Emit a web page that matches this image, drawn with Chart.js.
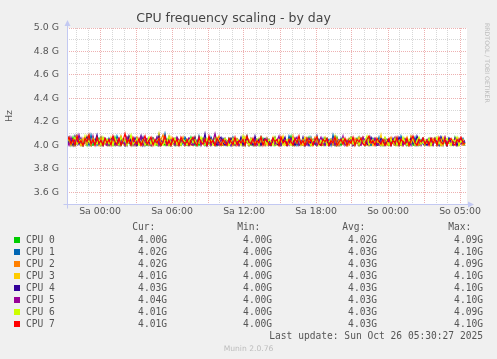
<!DOCTYPE html>
<html><head><meta charset="utf-8">
<script src="https://cdn.jsdelivr.net/npm/chart.js@4"></script>
<style>
html,body{margin:0;padding:0;background:#f0f0f0;}
#wrap{position:relative;width:497px;height:359px;overflow:hidden;background:#f0f0f0;}
#c{position:absolute;left:0;top:0;}
.m{position:absolute;font-family:"DejaVu Sans Mono",monospace;font-size:9.6px;line-height:12px;height:12px;color:#555;white-space:pre;}
.sq{position:absolute;width:6px;height:6px;}
#rrd{position:absolute;left:484px;top:23px;font-family:"DejaVu Sans";font-size:6.2px;line-height:7px;color:#bdbdbd;writing-mode:vertical-rl;white-space:nowrap;}
#munin{position:absolute;left:0;width:497px;text-align:center;top:343.5px;font-family:"DejaVu Sans";font-size:7.6px;line-height:9px;color:#bdbdbd;}
</style></head><body>
<div id="wrap"><canvas id="c" width="497" height="359"></canvas>
<div id="rrd">RRDTOOL / TOBI OETIKER</div>
<div id="munin">Munin 2.0.76</div>
</div>
<script>
// ---- data (GHz), one value every 10 minutes ----
const seriesNames = ['CPU 0','CPU 1','CPU 2','CPU 3','CPU 4','CPU 5','CPU 6','CPU 7'];
const seriesColors = ['#00CC00','#0066B3','#FF8000','#FFCC00','#330099','#990099','#CCFF00','#FF0000'];
const cpu0 = [4.00,4.04,4.01,4.07,4.00,4.03,4.06,4.00,4.02,4.05,4.00,4.08,4.01,4.00,4.04,4.02,4.06,4.00,4.03,4.01,
4.05,4.00,4.02,4.00,4.07,4.01,4.04,4.00,4.03,4.00,4.06,4.02,4.00,4.05,4.01,4.00,4.03,4.07,4.00,4.02,
4.00,4.04,4.00,4.06,4.02,4.00,4.09,4.01,4.03,4.00,4.05,4.00,4.02,4.04,4.00,4.06,4.01,4.00,4.03,4.05,
4.01,4.00,4.07,4.02,4.00,4.04,4.00,4.03,4.06,4.00,4.01,4.05,4.00,4.02,4.08,4.00,4.03,4.01,4.00,4.04,
4.00,4.06,4.02,4.00,4.03,4.05,4.00,4.01,4.04,4.00,4.07,4.02,4.00,4.03,4.00,4.05,4.01,4.00,4.06,4.02,
4.03,4.00,4.01,4.05,4.00,4.04,4.02,4.00,4.06,4.01,4.00,4.03,4.08,4.00,4.02,4.04,4.00,4.01,4.05,4.00,
4.02,4.07,4.00,4.03,4.01,4.00,4.05,4.02,4.00,4.04,4.06,4.00,4.01,4.03,4.00,4.07,4.02,4.00,4.04,4.01,
4.00,4.05,4.03,4.00,4.02,4.06,4.00,4.01,4.04,4.00,4.03,4.07,4.00,4.02,4.05,4.00,4.01,4.04,4.00,4.06,
4.01,4.00,4.04,4.02,4.00,4.06,4.01,4.00,4.03,4.05,4.00,4.02,4.07,4.00,4.01,4.04,4.00,4.03,4.06,4.00,
4.02,4.04,4.00,4.01,4.06,4.00,4.03,4.00,4.05,4.02,4.00,4.04,4.01,4.00,4.07,4.02,4.00,4.03,4.01,4.00];
const cpu1 = [4.03,4.07,4.00,4.05,4.02,4.08,4.01,4.04,4.00,4.06,4.03,4.00,4.09,4.02,4.05,4.00,4.04,4.07,4.01,4.03,
4.00,4.06,4.02,4.04,4.00,4.08,4.03,4.01,4.05,4.00,4.07,4.02,4.04,4.00,4.06,4.01,4.03,4.08,4.00,4.05,
4.02,4.00,4.06,4.03,4.01,4.07,4.00,4.04,4.02,4.10,4.01,4.05,4.00,4.03,4.06,4.00,4.02,4.05,4.01,4.07,
4.04,4.00,4.03,4.06,4.01,4.00,4.08,4.02,4.05,4.00,4.04,4.01,4.07,4.03,4.00,4.05,4.02,4.00,4.06,4.03,
4.01,4.05,4.00,4.07,4.02,4.04,4.00,4.06,4.01,4.03,4.08,4.00,4.02,4.05,4.01,4.04,4.00,4.07,4.03,4.00,
4.06,4.02,4.00,4.04,4.07,4.01,4.03,4.00,4.05,4.02,4.00,4.08,4.03,4.01,4.06,4.00,4.04,4.02,4.00,4.05,
4.03,4.00,4.07,4.02,4.05,4.00,4.04,4.01,4.06,4.00,4.03,4.05,4.00,4.09,4.02,4.04,4.00,4.06,4.01,4.03,
4.00,4.05,4.02,4.06,4.00,4.03,4.07,4.01,4.04,4.00,4.05,4.02,4.00,4.06,4.03,4.01,4.07,4.00,4.04,4.02,
4.05,4.01,4.00,4.04,4.06,4.02,4.00,4.08,4.03,4.01,4.05,4.00,4.04,4.02,4.07,4.00,4.03,4.05,4.01,4.00,
4.04,4.06,4.01,4.00,4.05,4.03,4.00,4.07,4.02,4.04,4.00,4.06,4.01,4.03,4.05,4.00,4.04,4.02,4.06,4.02];
const cpu2 = [4.05,4.01,4.03,4.00,4.07,4.02,4.04,4.00,4.06,4.01,4.08,4.03,4.00,4.05,4.02,4.04,4.00,4.07,4.01,4.03,
4.00,4.04,4.06,4.02,4.00,4.05,4.01,4.08,4.03,4.00,4.04,4.02,4.06,4.00,4.03,4.07,4.01,4.00,4.05,4.02,
4.04,4.00,4.02,4.06,4.01,4.03,4.00,4.05,4.09,4.02,4.00,4.04,4.01,4.06,4.03,4.00,4.05,4.02,4.07,4.00,
4.03,4.05,4.00,4.02,4.04,4.00,4.07,4.01,4.03,4.06,4.00,4.02,4.05,4.01,4.00,4.04,4.08,4.02,4.00,4.05,
4.01,4.03,4.06,4.00,4.04,4.02,4.00,4.05,4.01,4.07,4.03,4.00,4.04,4.02,4.06,4.00,4.03,4.01,4.05,4.00,
4.06,4.00,4.02,4.05,4.01,4.04,4.00,4.07,4.02,4.03,4.00,4.05,4.01,4.08,4.00,4.03,4.06,4.01,4.00,4.04,
4.02,4.05,4.00,4.03,4.07,4.00,4.04,4.02,4.00,4.06,4.01,4.03,4.05,4.00,4.02,4.06,4.00,4.04,4.03,4.01,
4.05,4.00,4.03,4.01,4.06,4.02,4.00,4.04,4.07,4.01,4.00,4.05,4.03,4.00,4.06,4.02,4.04,4.00,4.01,4.05,
4.00,4.03,4.07,4.02,4.00,4.05,4.01,4.04,4.00,4.06,4.02,4.00,4.08,4.03,4.01,4.05,4.00,4.02,4.06,4.01,
4.04,4.02,4.00,4.06,4.03,4.01,4.05,4.00,4.02,4.07,4.00,4.04,4.01,4.03,4.05,4.00,4.06,4.02,4.00,4.02];
const cpu3 = [4.01,4.06,4.03,4.00,4.05,4.08,4.02,4.00,4.04,4.06,4.01,4.03,4.00,4.07,4.02,4.05,4.00,4.03,4.06,4.01,
4.04,4.00,4.07,4.02,4.05,4.00,4.03,4.06,4.01,4.00,4.05,4.08,4.02,4.04,4.00,4.06,4.03,4.01,4.00,4.05,
4.02,4.04,4.00,4.06,4.03,4.01,4.10,4.00,4.05,4.02,4.04,4.00,4.07,4.01,4.03,4.05,4.00,4.02,4.06,4.00,
4.05,4.02,4.04,4.00,4.07,4.01,4.03,4.00,4.06,4.02,4.05,4.01,4.00,4.04,4.08,4.02,4.00,4.05,4.03,4.01,
4.03,4.00,4.05,4.02,4.00,4.06,4.04,4.01,4.00,4.07,4.02,4.05,4.03,4.00,4.04,4.01,4.06,4.00,4.03,4.05,
4.00,4.04,4.02,4.07,4.01,4.00,4.05,4.03,4.08,4.00,4.02,4.04,4.01,4.06,4.00,4.03,4.05,4.02,4.00,4.07,
4.04,4.01,4.06,4.00,4.03,4.05,4.02,4.00,4.04,4.07,4.01,4.00,4.05,4.03,4.06,4.00,4.02,4.04,4.01,4.05,
4.00,4.06,4.02,4.04,4.00,4.03,4.07,4.01,4.05,4.00,4.04,4.02,4.06,4.00,4.03,4.05,4.01,4.09,4.00,4.03,
4.05,4.02,4.00,4.04,4.06,4.01,4.03,4.00,4.05,4.02,4.07,4.00,4.03,4.04,4.01,4.00,4.06,4.02,4.04,4.00,
4.03,4.05,4.01,4.00,4.06,4.02,4.04,4.00,4.07,4.03,4.01,4.05,4.00,4.04,4.02,4.06,4.00,4.03,4.05,4.01];
const cpu4 = [4.06,4.02,4.05,4.00,4.08,4.03,4.01,4.06,4.00,4.04,4.07,4.02,4.00,4.05,4.03,4.09,4.01,4.04,4.00,4.06,
4.03,4.00,4.05,4.07,4.01,4.04,4.00,4.06,4.02,4.05,4.00,4.08,4.03,4.01,4.06,4.00,4.04,4.02,4.07,4.00,
4.05,4.03,4.00,4.06,4.02,4.04,4.08,4.00,4.03,4.05,4.01,4.07,4.00,4.04,4.02,4.06,4.00,4.03,4.05,4.01,
4.00,4.06,4.04,4.01,4.07,4.00,4.03,4.05,4.02,4.10,4.00,4.04,4.06,4.01,4.03,4.00,4.05,4.07,4.02,4.00,
4.04,4.01,4.06,4.03,4.00,4.05,4.02,4.07,4.00,4.04,4.06,4.01,4.03,4.00,4.08,4.02,4.05,4.00,4.04,4.06,
4.02,4.05,4.00,4.04,4.06,4.01,4.00,4.05,4.03,4.07,4.00,4.02,4.06,4.04,4.00,4.03,4.05,4.01,4.07,4.00,
4.06,4.00,4.03,4.05,4.01,4.08,4.02,4.00,4.04,4.06,4.03,4.00,4.05,4.01,4.07,4.00,4.04,4.02,4.06,4.03,
4.01,4.05,4.07,4.00,4.03,4.04,4.00,4.06,4.02,4.05,4.01,4.00,4.07,4.03,4.05,4.00,4.02,4.06,4.04,4.00,
4.05,4.03,4.00,4.06,4.02,4.00,4.07,4.04,4.01,4.05,4.00,4.03,4.06,4.02,4.00,4.08,4.04,4.01,4.05,4.02,
4.00,4.04,4.06,4.01,4.05,4.03,4.00,4.07,4.02,4.04,4.00,4.06,4.03,4.01,4.05,4.00,4.04,4.06,4.02,4.03];
const cpu5 = [4.04,4.00,4.07,4.02,4.05,4.01,4.09,4.03,4.00,4.06,4.02,4.04,4.00,4.08,4.01,4.05,4.03,4.00,4.06,4.02,
4.00,4.05,4.03,4.07,4.01,4.00,4.06,4.02,4.04,4.00,4.07,4.03,4.01,4.05,4.00,4.06,4.02,4.08,4.00,4.04,
4.06,4.02,4.00,4.05,4.03,4.07,4.00,4.04,4.01,4.06,4.00,4.03,4.05,4.02,4.00,4.07,4.04,4.01,4.05,4.00,
4.03,4.06,4.01,4.00,4.04,4.02,4.07,4.00,4.05,4.03,4.01,4.06,4.00,4.04,4.10,4.02,4.00,4.05,4.03,4.06,
4.01,4.04,4.00,4.06,4.02,4.05,4.00,4.03,4.07,4.01,4.04,4.00,4.06,4.02,4.05,4.00,4.03,4.07,4.01,4.04,
4.05,4.00,4.03,4.06,4.01,4.04,4.08,4.00,4.02,4.05,4.03,4.00,4.06,4.01,4.04,4.07,4.00,4.03,4.05,4.02,
4.00,4.06,4.04,4.01,4.05,4.00,4.03,4.07,4.02,4.00,4.05,4.04,4.01,4.06,4.00,4.03,4.05,4.02,4.08,4.00,
4.04,4.02,4.06,4.00,4.03,4.05,4.01,4.00,4.07,4.03,4.04,4.00,4.05,4.02,4.06,4.01,4.00,4.04,4.03,4.06,
4.02,4.05,4.00,4.04,4.07,4.01,4.03,4.06,4.00,4.05,4.02,4.04,4.00,4.07,4.03,4.01,4.05,4.00,4.06,4.03,
4.05,4.01,4.04,4.00,4.06,4.03,4.02,4.05,4.00,4.07,4.01,4.04,4.03,4.00,4.06,4.02,4.05,4.01,4.03,4.04];
const cpu6 = [4.02,4.06,4.00,4.04,4.07,4.01,4.03,4.05,4.00,4.08,4.02,4.04,4.00,4.06,4.03,4.01,4.05,4.00,4.07,4.02,
4.05,4.01,4.04,4.00,4.06,4.02,4.00,4.07,4.03,4.05,4.00,4.04,4.09,4.01,4.03,4.06,4.00,4.02,4.05,4.00,
4.03,4.07,4.01,4.05,4.00,4.04,4.06,4.02,4.00,4.05,4.03,4.08,4.00,4.02,4.06,4.01,4.04,4.00,4.05,4.03,
4.00,4.04,4.06,4.02,4.05,4.00,4.03,4.07,4.01,4.00,4.06,4.03,4.05,4.00,4.02,4.07,4.04,4.00,4.03,4.06,
4.04,4.00,4.02,4.06,4.01,4.05,4.03,4.00,4.08,4.02,4.04,4.00,4.06,4.03,4.01,4.05,4.00,4.07,4.02,4.04,
4.01,4.05,4.03,4.00,4.07,4.02,4.04,4.06,4.00,4.03,4.05,4.01,4.00,4.06,4.04,4.02,4.07,4.00,4.05,4.01,
4.06,4.02,4.00,4.05,4.03,4.07,4.00,4.04,4.02,4.06,4.00,4.03,4.05,4.01,4.08,4.00,4.04,4.02,4.06,4.03,
4.00,4.04,4.07,4.01,4.03,4.05,4.00,4.06,4.02,4.04,4.08,4.00,4.03,4.05,4.01,4.06,4.02,4.00,4.04,4.07,
4.03,4.00,4.05,4.02,4.06,4.00,4.04,4.01,4.07,4.03,4.00,4.05,4.02,4.06,4.00,4.04,4.07,4.01,4.03,4.05,
4.02,4.06,4.00,4.04,4.03,4.07,4.01,4.05,4.00,4.04,4.06,4.02,4.00,4.05,4.03,4.07,4.00,4.04,4.02,4.01];
const cpu7 = [4.03,4.07,4.01,4.05,4.00,4.08,4.02,4.04,4.00,4.06,4.03,4.09,4.01,4.05,4.00,4.07,4.02,4.04,4.00,4.06,
4.02,4.05,4.00,4.08,4.03,4.01,4.06,4.00,4.04,4.10,4.02,4.05,4.00,4.07,4.03,4.01,4.06,4.00,4.04,4.08,
4.01,4.04,4.07,4.00,4.05,4.02,4.06,4.00,4.03,4.08,4.01,4.04,4.00,4.06,4.02,4.05,4.00,4.07,4.03,4.01,
4.05,4.00,4.04,4.07,4.02,4.00,4.06,4.03,4.01,4.05,4.00,4.08,4.02,4.04,4.00,4.06,4.03,4.00,4.05,4.02,
4.00,4.06,4.03,4.01,4.07,4.00,4.04,4.02,4.05,4.00,4.08,4.03,4.01,4.06,4.00,4.04,4.02,4.07,4.00,4.05,
4.04,4.01,4.00,4.06,4.03,4.05,4.00,4.07,4.02,4.04,4.00,4.05,4.03,4.00,4.06,4.02,4.08,4.01,4.04,4.00,
4.06,4.02,4.05,4.00,4.04,4.07,4.01,4.00,4.05,4.03,4.06,4.00,4.04,4.02,4.07,4.00,4.03,4.05,4.01,4.06,
4.00,4.04,4.02,4.07,4.00,4.05,4.03,4.06,4.01,4.00,4.05,4.08,4.02,4.04,4.00,4.06,4.03,4.01,4.05,4.00,
4.03,4.06,4.00,4.04,4.02,4.07,4.00,4.05,4.03,4.01,4.06,4.00,4.04,4.08,4.02,4.00,4.05,4.03,4.06,4.01,
4.04,4.00,4.06,4.02,4.05,4.00,4.07,4.03,4.01,4.05,4.00,4.04,4.06,4.02,4.00,4.05,4.03,4.07,4.02,4.01];
const allSeries = [cpu0,cpu1,cpu2,cpu3,cpu4,cpu5,cpu6,cpu7];

// legend statistics as printed
const curVals = ['4.00G','4.02G','4.02G','4.01G','4.03G','4.04G','4.01G','4.01G'];
const minVals = ['4.00G','4.00G','4.00G','4.00G','4.00G','4.00G','4.00G','4.00G'];
const avgVals = ['4.02G','4.03G','4.03G','4.03G','4.03G','4.03G','4.03G','4.03G'];
const maxVals = ['4.09G','4.10G','4.09G','4.10G','4.10G','4.10G','4.09G','4.10G'];
const statHeaders = ['Cur:','Min:','Avg:','Max:'];
const lastUpdate = 'Last update: Sun Oct 26 05:30:27 2025';

// time axis: hours relative to Sa 00:00
const startHour = -2.75;
const stepHours = 1/6;
const spanHours = 400/12;
const xLabelHours = [0,6,12,18,24,30];
const xLabels = ['Sa 00:00','Sa 06:00','Sa 12:00','Sa 18:00','So 00:00','So 05:00'];
const yLabelValues = [3.6,3.8,4.0,4.2,4.4,4.6,4.8,5.0];
const yLabels = ['3.6 G','3.8 G','4.0 G','4.2 G','4.4 G','4.6 G','4.8 G','5.0 G'];
const yMin = 3.5, yMax = 5.0;

// ---- chart ----
const near = (a,b) => Math.abs(a-b) < 1e-6;
const MAJ = 'rgba(220,100,100,0.5)';
const MIN = 'rgba(160,160,160,0.42)';
const AXIS = '#c3c9f2';

const datasets = allSeries.map((arr,si) => ({
  label: seriesNames[si],
  data: arr.map((v,i) => ({x: startHour + i*stepHours, y: v})),
  borderColor: seriesColors[si],
  backgroundColor: seriesColors[si],
  borderWidth: 1.2,
  pointRadius: 0,
  tension: 0,
  fill: false,
  order: allSeries.length - 1 - si
}));

const decor = {
  id: 'decor',
  beforeDraw(c) {
    const {ctx, chartArea: a} = c;
    ctx.save();
    ctx.fillStyle = '#ffffff';
    ctx.fillRect(a.left, a.top, a.right - a.left, a.bottom - a.top);
    ctx.restore();
  },
  afterDraw(c) {
    const {ctx, chartArea: a} = c;
    ctx.save();
    ctx.strokeStyle = AXIS; ctx.fillStyle = AXIS; ctx.lineWidth = 1;
    const L = Math.round(a.left) + 0.5, B = Math.round(a.bottom) + 0.5;
    ctx.beginPath();
    ctx.moveTo(L, B + 4); ctx.lineTo(L, a.top - 3);
    ctx.moveTo(L - 4, B); ctx.lineTo(a.right + 2, B);
    ctx.stroke();
    ctx.beginPath();
    ctx.moveTo(L - 3, a.top - 2); ctx.lineTo(L + 3, a.top - 2); ctx.lineTo(L, a.top - 8); ctx.closePath(); ctx.fill();
    ctx.beginPath();
    ctx.moveTo(a.right + 1, B - 3); ctx.lineTo(a.right + 1, B + 3); ctx.lineTo(a.right + 7, B); ctx.closePath(); ctx.fill();
    ctx.restore();
  }
};

new Chart(document.getElementById('c'), {
  type: 'line',
  data: { datasets },
  options: {
    responsive: false,
    animation: false,
    devicePixelRatio: 1,
    layout: { padding: { left: 0, top: 0, right: 30, bottom: 135 } },
    plugins: {
      legend: { display: false },
      tooltip: { enabled: false },
      title: {
        display: true,
        text: 'CPU frequency scaling - by day',
        color: '#444',
        font: { family: 'DejaVu Sans', size: 12.5, weight: 'normal' },
        padding: { top: 11.5, bottom: 1.5 }
      }
    },
    scales: {
      x: {
        type: 'linear',
        min: startHour,
        max: startHour + spanHours,
        afterFit(s) { s.height = 20; },
        afterBuildTicks(s) {
          const t = [];
          for (let h = Math.ceil(startHour); h <= startHour + spanHours; h++) t.push({value: h});
          s.ticks = t;
        },
        ticks: {
          autoSkip: false, maxRotation: 0, minRotation: 0, padding: 2,
          color: '#555',
          font: { family: 'DejaVu Sans', size: 9.4 },
          callback(v) { const k = xLabelHours.findIndex(h => near(h, v)); return k >= 0 ? xLabels[k] : ''; }
        },
        grid: {
          drawTicks: false, lineWidth: 1,
          color(ctx) { if (ctx.type !== 'tick') return 'transparent'; const v = Math.round(ctx.tick.value); return (v >= 0 && v % 3 === 0) ? MAJ : MIN; }
        },
        border: { display: false, dash: [1,1] }
      },
      y: {
        type: 'linear',
        min: yMin, max: yMax,
        afterFit(s) { s.width = 67; },
        afterBuildTicks(s) {
          const t = [];
          for (let k = Math.round(yMin*10); k <= Math.round(yMax*10); k++) t.push({value: k/10});
          s.ticks = t;
        },
        ticks: {
          autoSkip: false, padding: 8,
          color: '#555',
          font: { family: 'DejaVu Sans', size: 9.4 },
          callback(v) { const k = yLabelValues.findIndex(h => near(h, v)); return k >= 0 ? yLabels[k] : ''; }
        },
        title: {
          display: true, text: 'Hz', color: '#555',
          font: { family: 'DejaVu Sans', size: 9.5 },
          padding: { top: 4, bottom: 0 }
        },
        grid: {
          drawTicks: false, lineWidth: 1,
          color(ctx) { if (ctx.type !== 'tick') return 'transparent'; return yLabelValues.some(h => near(h, ctx.tick.value)) ? MAJ : MIN; }
        },
        border: { display: false, dash: [1,1] }
      }
    }
  },
  plugins: [decor]
});

// ---- legend (HTML text) ----
const wrap = document.getElementById('wrap');
const W = 497;
function txt(s, top, left, right) {
  const d = document.createElement('div');
  d.className = 'm';
  d.textContent = s;
  d.style.top = top + 'px';
  if (right !== undefined) { d.style.right = (W - right) + 'px'; d.style.textAlign = 'right'; }
  else d.style.left = left + 'px';
  wrap.appendChild(d);
}
const colRight = [167, 272, 377, 483];
const headRight = colRight.map(r => r - 11.6);
const firstRow = 239.5, rowH = 12;
statHeaders.forEach((h, i) => txt(h, 227 - 6, 0, headRight[i]));
seriesNames.forEach((n, i) => {
  const cy = firstRow + i*rowH;
  const sq = document.createElement('div');
  sq.className = 'sq';
  sq.style.left = '14px'; sq.style.top = (cy - 3) + 'px';
  sq.style.background = seriesColors[i];
  wrap.appendChild(sq);
  txt(n, cy - 6, 26);
  [curVals, minVals, avgVals, maxVals].forEach((arr, j) => txt(arr[i], cy - 6, 0, colRight[j]));
});
txt(lastUpdate, firstRow + 8*rowH - 6, 0, colRight[3]);
</script>
</body></html>
